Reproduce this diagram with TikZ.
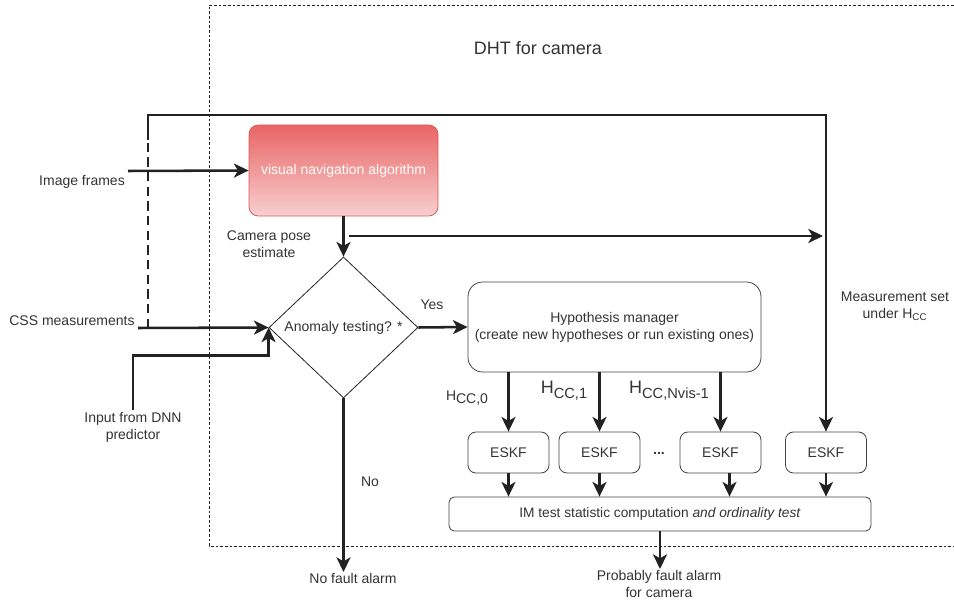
\documentclass[tikz,border=0pt]{standalone}
\usepackage{fontspec}
\setmainfont{Liberation Sans}
\usepackage{tikz}
\usetikzlibrary{arrows.meta,shapes.geometric}
\definecolor{ink}{HTML}{222222}
\definecolor{txt}{HTML}{333333}
\definecolor{vnatop}{HTML}{E96565}
\definecolor{vnabot}{HTML}{F8CFCF}
\definecolor{vnaedge}{HTML}{D65C5C}
\tikzset{
 lbl/.style={text=txt,font=\fontsize{10.5}{12.75}\selectfont,align=center,inner sep=1pt},
 arr/.style={draw=ink,line width=1.9pt,-{Stealth[length=11pt,width=10.5pt,inset=3pt]}},
 blk/.style={draw=ink!85,line width=0.6pt,rounded corners=6pt,lbl,inner sep=0pt},
}

\begin{document}
\begin{tikzpicture}[x=0.75pt,y=-0.75pt]
 \useasboundingbox (0,0) rectangle (954,602);
 \draw[ink,line width=0.6pt,dash pattern=on 2pt off 1.5pt] (954,5) -- (209,5) -- (209,546) -- (954,546);
 \node[lbl,font=\fontsize{13.5}{16}\selectfont] (title) at (538,48) {DHT for camera};

 \node[blk,rounded corners=7pt,draw=vnaedge,top color=vnatop,bottom color=vnabot,text=white,
   minimum width=141.75pt,minimum height=68.25pt] (vna) at (343.5,170.5) {visual navigation algorithm};
 \node[diamond,draw=ink,line width=0.6pt,lbl,inner sep=0pt,minimum width=111.75pt,
   minimum height=105.75pt] (dia) at (343.5,327.5) {Anomaly testing? *};
 \node[blk,rounded corners=11pt,minimum width=219.75pt,minimum height=67.5pt] (hm) at (614.5,327)
   {Hypothesis manager\\(create new hypotheses or run existing ones)};
 \foreach \n/\x in {1/508.5,2/599.5,3/720.5,4/826}
   \node[blk,minimum width=60.75pt,minimum height=30.75pt] (eskf\n) at (\x,452.5) {ESKF};
 \node[lbl] (dots) at (659,453) {\textbf{...}};
 \node[blk,rounded corners=4pt,minimum width=316.5pt,minimum height=25.5pt,
   font=\fontsize{10.3}{12}\selectfont] (im) at (660,514) {IM test statistic computation \textit{and ordinality test}};

 \node[lbl] (imgtxt) at (82,182) {Image frames};
 \node[lbl] (csstxt) at (72,321) {CSS measurements};
 \node[lbl] (dnn) at (133,427) {Input from DNN\\predictor};
 \node[lbl] (pose) at (269,244) {Camera pose\\estimate};
 \node[lbl] (yes) at (432,305) {Yes};
 \node[lbl] (no) at (370,482) {No};
 \node[lbl,anchor=north] (nofault) at (353,572) {No fault alarm};
 \node[lbl,anchor=north] (pfault) at (659,569) {Probably fault alarm\\for camera};
 \node[lbl] (mset) at (895,306) {Measurement set\\under H\textsubscript{CC}};
 \node[lbl] (h0) at (467,398) {H\raisebox{-0.5ex}{CC,0}};
 \node[lbl,font=\fontsize{13.5}{16}\selectfont] (h1) at (564,391) {H\raisebox{-0.55ex}{\fontsize{11}{13}\selectfont CC,1}};
 \node[lbl,font=\fontsize{13.5}{16}\selectfont] (hn) at (669,391) {H\raisebox{-0.55ex}{\fontsize{11}{13}\selectfont CC,Nvis-1}};

 \coordinate (imgin) at (128,171);
 \coordinate (cssin) at (138,328);
 \coordinate (loopdn) at (148,328);
 \coordinate (dashend) at (148,140);
 \coordinate (looptl) at (148,115);
 \coordinate (looptr) at (826,115);
 \coordinate (posein) at (349,236);
 \coordinate (poseout) at (823,236);

 \draw[arr] (imgin) -- (vna.west);
 \draw[arr] (cssin) -- (dia.west);
 \draw[ink,line width=1.9pt,dash pattern=on 7pt off 4pt] (loopdn) -- (dashend);
 \draw[arr] (dashend) -- (looptl) -- (looptr) -- (eskf4.north);
 \draw[arr] (vna.south) -- (dia.north);
 \draw[arr] (posein) -- (poseout);
 \draw[arr] (dnn.north) -- ++(0,-55) -| (dia.west);
 \draw[arr] (dia.east) -- (hm.west);
 \draw[arr] (dia.south) -- (dia.south |- nofault.north);
 \foreach \n in {1,2,3}
   \draw[arr] (hm.south -| eskf\n) -- (eskf\n.north);
 \foreach \n in {1,2,4}
   \draw[arr] (eskf\n.south) -- (eskf\n.south |- im.north);
 \draw[arr] ([xshift=6.75pt]eskf3.south) -- ([xshift=6.75pt]eskf3.south |- im.north);
 \draw[arr] (im.south) -- (im.south |- pfault.north);
\end{tikzpicture}
\end{document}
